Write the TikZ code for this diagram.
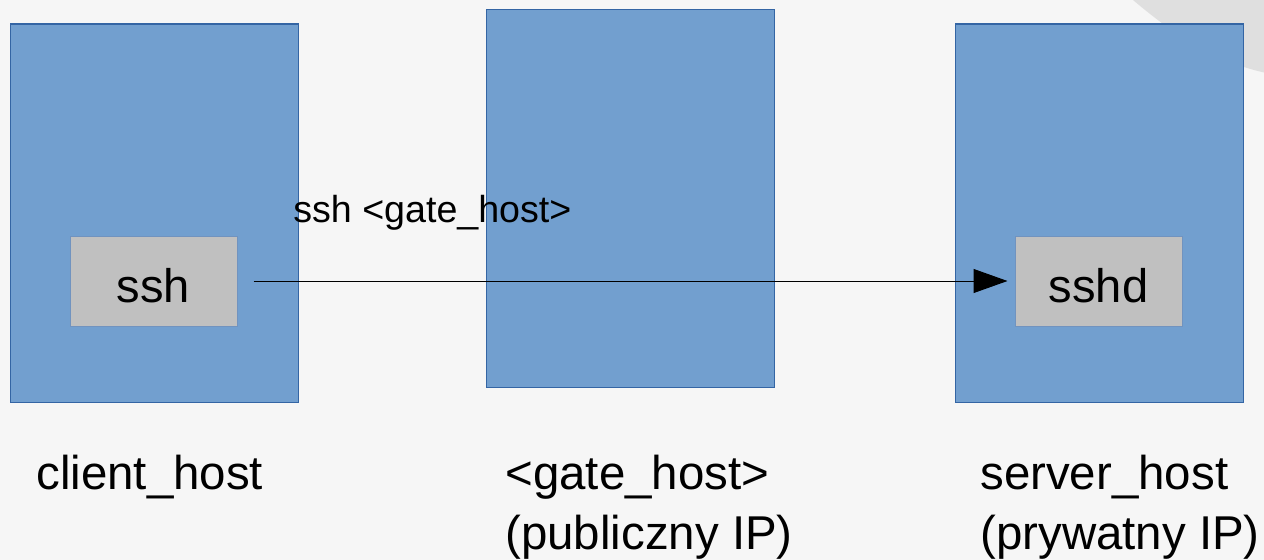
\documentclass[tikz,border=0pt]{standalone}
\usepackage{fontspec}
\setmainfont{Liberation Sans}
\usetikzlibrary{arrows.meta}
\definecolor{hostfill}{HTML}{729FCF}
\definecolor{hostline}{HTML}{3465A4}
\definecolor{procfill}{HTML}{C0C0C0}
\definecolor{pagebg}{HTML}{F6F6F6}
\definecolor{swoosh}{HTML}{DFDFDF}
\tikzset{
  host/.style={draw=hostline, fill=hostfill, line width=0.02cm,
    minimum width=5.76cm, minimum height=7.56cm, inner sep=0pt},
  proc/.style={draw=hostline!70, fill=procfill, line width=0.02cm,
    minimum width=3.34cm, minimum height=1.8cm, inner sep=0pt,
    text height=0.84cm, text depth=0cm,
    font=\fontsize{26.8}{30}\selectfont},
  hostname/.style={anchor=base west, align=left, inner sep=0pt,
    font=\fontsize{27}{34}\selectfont},
}
\begin{document}
\begin{tikzpicture}
  % background
  \fill [pagebg] (0.000000,0.000000) rectangle (25.280000,-11.200000);%
  \fill [swoosh] (22.660000,0.000000) .. controls (23.600000,-0.800000) and (24.400000,-1.250000) .. (25.280000,-1.450000) -- (25.280000,0.000000) -- cycle;%
  \useasboundingbox (0.000000,0.000000) rectangle (25.280000,-11.200000);%

  % Drawing hosts
  \node [host] (client) at (3.080000,-4.260000) {};%
  \node [host] (gate) at (12.600000,-3.960000) {};%
  \node [host] (server) at (21.980000,-4.260000) {};%

  % Drawing processes
  \node [proc] (ssh) at (3.070000,-5.620000) {ssh};%
  \node [proc] (sshd) at (21.970000,-5.620000) {sshd};%

  % Drawing connection ssh sshd
  \draw [line width=0.02cm, -{Triangle[length=0.68cm, width=0.48cm]},
    shorten <=0.32cm, shorten >=0.14cm] (ssh.east) -- (sshd.west);%
  \node [anchor=base west, inner sep=0pt, font=\fontsize{21.4}{25}\selectfont]
    (cmd) at (5.860000,-4.440000) {ssh <gate\_host>};%

  % Marking host names
  \node [hostname] (clientname) at (0.720000,-9.780000) {client\_host};%
  \node [hostname] (gatename) at (10.100000,-10.980000) {<gate\_host>\\(publiczny IP)};%
  \node [hostname] (servername) at (19.600000,-10.980000) {server\_host\\(prywatny IP)};%
\end{tikzpicture}
\end{document}
